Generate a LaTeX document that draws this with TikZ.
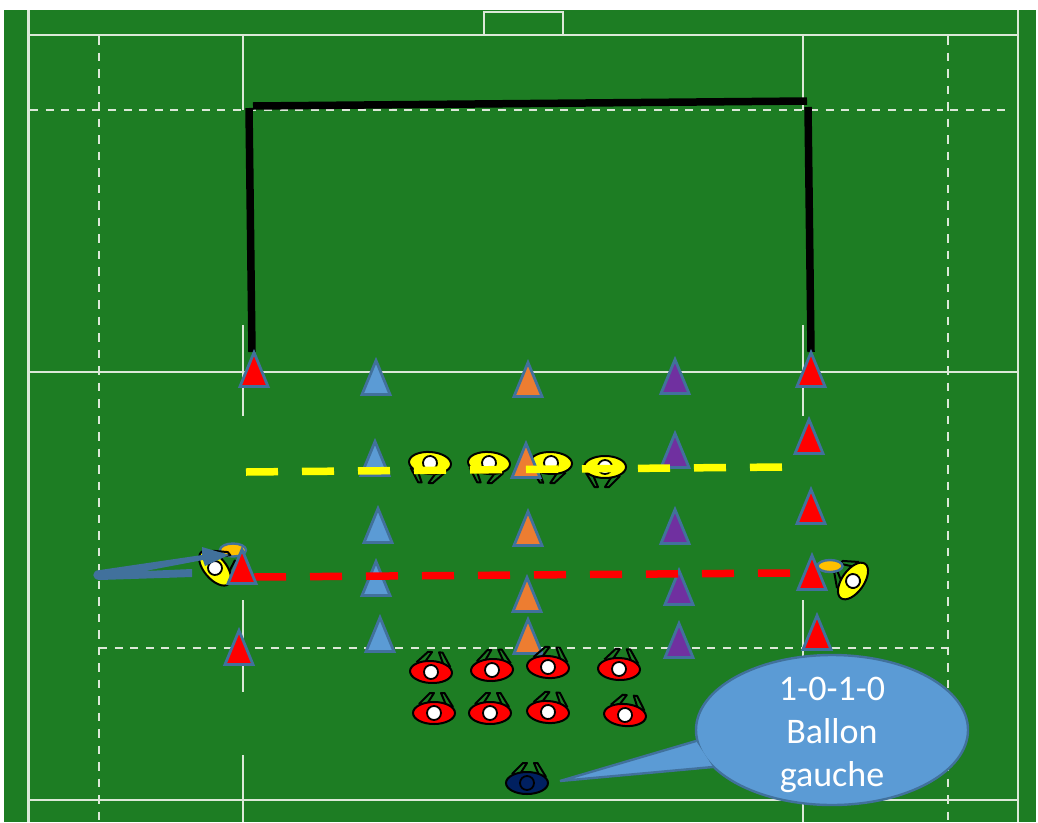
\documentclass[tikz,border=0pt]{standalone}
\usepackage{fontspec}
\usepackage{xcolor}
\setmainfont{Carlito}
\usetikzlibrary{shapes.geometric, positioning, calc}

\definecolor{pitchgreen}{HTML}{1D7D23}
\definecolor{pitchline}{HTML}{DCE8D8}
\definecolor{shapeline}{HTML}{41719C}
\definecolor{conered}{HTML}{FF0000}
\definecolor{coneblue}{HTML}{5B9BD5}
\definecolor{coneorange}{HTML}{ED7D31}
\definecolor{conepurple}{HTML}{7030A0}
\definecolor{ballyellow}{HTML}{FFC000}
\definecolor{playeryellow}{HTML}{FFFF00}
\definecolor{playernavy}{HTML}{002060}

\tikzset{
  fieldline/.style={draw=pitchline, line width=2.6pt},
  fielddash/.style={draw=pitchline, line width=2.8pt, dash pattern=on 8pt off 7.6pt},
  fielddashv/.style={draw=pitchline, line width=2.8pt, dash pattern=on 8.5pt off 8pt},
  runline/.style={line width=7.5pt, dash pattern=on 32pt off 24pt},
  goalline/.style={black, line width=7.5pt},
  pics/cone/.style={code={
    \filldraw[draw=shapeline, line width=2.8pt, fill=#1] (-14,17.5) -- (0,-16.5) -- (14,17.5) -- cycle;
  }},
  pics/player/.style 2 args={code={
    \draw[black, line width=2pt, line join=round] (-15,-9) -- (-4,-20) -- (0,-20) -- (-7,-9);
    \draw[black, line width=2pt, line join=round] (19,-6) -- (10.5,-20) -- (7,-20) -- (12,-8);
    \filldraw[draw=black, line width=2pt, fill=#1] (0,0) ellipse [x radius=21, y radius=11];
    \filldraw[draw=black, line width=1.8pt, fill=#2] (0,0) circle (7);
  }},
  ball/.style={draw=shapeline, line width=2.4pt, fill=ballyellow},
  bubble/.style={ellipse, draw=shapeline, line width=2.4pt, fill=coneblue,
    minimum width=272pt, minimum height=150pt, inner sep=0pt},
  bubbletext/.style={text=white, align=center, inner sep=0pt, font=\fontsize{36}{43}\selectfont}
}

\begin{document}
\begin{tikzpicture}[x=1pt, y=-1pt]
\useasboundingbox (0,0) rectangle (1038,822);

% Grass
\fill[pitchgreen] (4,10) rectangle (1036,822);

% Solid pitch lines
\draw[fieldline] (28.5,10) -- (28.5,822);
\draw[fieldline] (1018,10) -- (1018,822);
\draw[fieldline] (28.5,35) -- (1018,35);
\draw[fieldline] (28.5,372) -- (1018,372);
\draw[fieldline, line width=2pt] (28.5,800) -- (1018,800);
\draw[fieldline] (484,35) -- (484,12) -- (563,12) -- (563,35);
\foreach \x in {243,803} {
    \draw[fieldline] (\x,35) -- (\x,110);
    \draw[fieldline] (\x,325) -- (\x,416);
    \draw[fieldline] (\x,600) -- (\x,692);
    \draw[fieldline] (\x,755) -- (\x,822);
}

% Dashed pitch lines
\draw[fielddash] (30,110) -- (1010,110);
\draw[fielddash] (99,648) -- (948,648);
\foreach \x in {99,948} {
    \draw[fielddashv] (\x,36) -- (\x,822);
}

% Black frame
\draw[goalline] (252,352) -- (249,108);
\draw[goalline] (253,106) -- (807,101);
\draw[goalline] (808,107) -- (811,352);

% Defenders in yellow
\pic[rotate=176] at (430,463) {player={playeryellow}{white}};
\pic[rotate=176] at (489,463) {player={playeryellow}{white}};
\pic[rotate=178] at (551,463) {player={playeryellow}{white}};
\pic[rotate=180] at (605,467) {player={playeryellow}{white}};

% Cones
\foreach \x/\y in {254/369,811/369,809/436,811/506,812/572,817/632,239/647} {
    \pic at (\x,\y) {cone=conered};
}
\foreach \x/\y in {376/377,375/458,378/525,376/578,380/634} {
    \pic at (\x,\y) {cone=coneblue};
}
\foreach \x/\y in {528/379,526/460,528/528,527/594,528/636} {
    \pic at (\x,\y) {cone=coneorange};
}
\foreach \x/\y in {675/376,675/450,675/526,679/587,679/640} {
    \pic at (\x,\y) {cone=conepurple};
}

% Running lines
\draw[runline, playeryellow] (246,472) -- (783,467);
\draw[runline, conered] (254,577) -- (790,573);

% Player and ball on the right
\pic[rotate=55] at (853,581) {player={playeryellow}{white}};
\filldraw[ball] (830,566) ellipse [x radius=12.5, y radius=6];

% Player and ball on the left
\filldraw[ball] (233,550) ellipse [x radius=13, y radius=6.5];
\pic[rotate=-50] at (215,568) {player={playeryellow}{white}};

% Run arrow
\fill[shapeline] (100,570) -- (202,555) -- (202,547) -- (229,555) -- (205,566) -- (203,560)
    -- (145,571) -- (192,569) -- (192,577) -- (100,580) .. controls (91,580) and (91,570) .. (100,570) -- cycle;
\pic at (242,566) {cone=conered};

% Attackers in red
\pic[rotate=-3] at (431,672) {player={conered}{white}};
\pic[rotate=2] at (492,670) {player={conered}{white}};
\pic[rotate=-4] at (548,667) {player={conered}{white}};
\pic[rotate=-2] at (619,669) {player={conered}{white}};
\pic at (434,713) {player={conered}{white}};
\pic at (490,713) {player={conered}{white}};
\pic[rotate=-4] at (548,712) {player={conered}{white}};
\pic[rotate=-5] at (625,715) {player={conered}{white}};

% Passer
\pic at (527,783) {player={playernavy}{playernavy}};

% Speech bubble
\node[bubble] (bulle) at (832,730) {};
\filldraw[draw=shapeline, line width=2.4pt, fill=coneblue] (696,741) -- (560,781) -- (713,767);
\node[bubbletext] (bulletext) at (832,735) {1-0-1-0\\Ballon\\gauche};

\end{tikzpicture}
\end{document}
